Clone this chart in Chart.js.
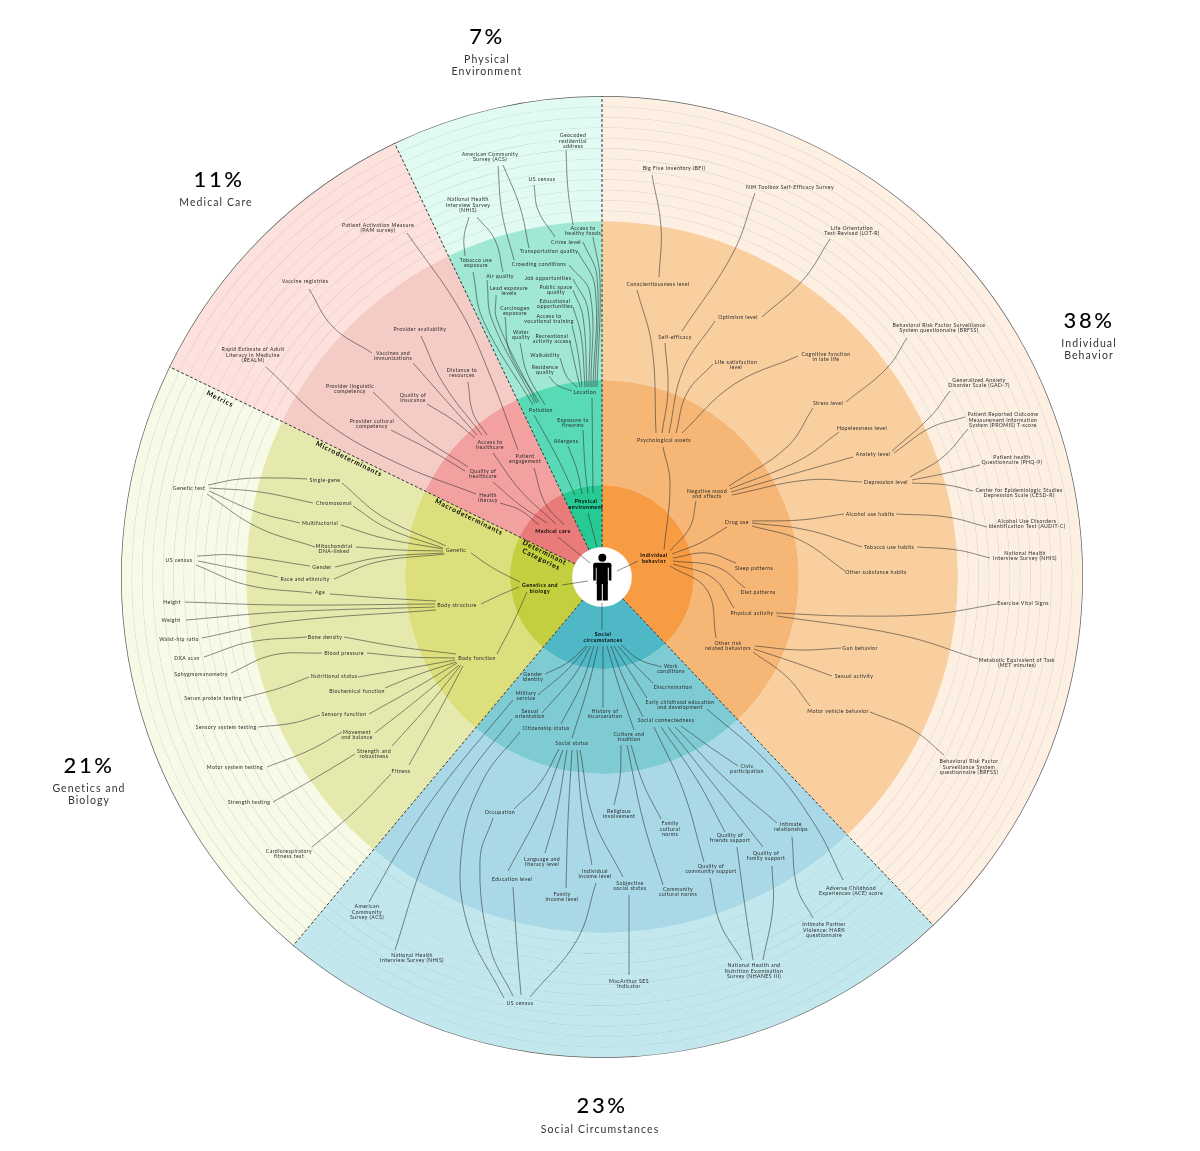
<!DOCTYPE html>
<html>
<head>
<meta charset="utf-8">
<title>Determinants of health</title>
<script src="https://cdn.jsdelivr.net/npm/chart.js@4"></script>
<style>
  html, body { margin: 0; padding: 0; background: #fff; }
  #wrap { position: relative; width: 1200px; height: 1151px; overflow: hidden; }
  #wrap canvas { position: absolute; left: 0; top: 0; }
</style>
</head>
<body>
<div id="wrap">
  <canvas id="rings" width="1200" height="1151"></canvas>
  <canvas id="links" width="1200" height="1151"></canvas>
</div>
<script>
// categories, clockwise from 12 o'clock
const categories = ['Individual behavior', 'Social circumstances', 'Genetics and biology', 'Medical care', 'Physical environment'];
// slice sizes as measured on the picture (printed rounded in the headlines)
const shares = [37.9, 23.2, 21.1, 10.7, 7.1];

// ring colours, same order as categories
const metricColors = ['#fdf0e3', '#c2e8ee', '#f8fae8', '#fde1dd', '#e1faf2'];
const hairColors   = ['#d9cfc2', '#9fcdd6', '#d2d5bd', '#e3bfbb', '#bde0d4'];
const microColors  = ['#f9cfa0', '#a9d9e6', '#e5e9ae', '#f5cbc5', '#a0e7d4'];
const macroColors  = ['#f5b676', '#7ecbd3', '#dcdf7c', '#f2a1a0', '#57dab5'];
const coreColors   = ['#f89c44', '#4fb8c6', '#c4cf3f', '#e97c7b', '#27c994'];

// [text, x, y] - text lines split with |, x/y are in the scatter chart's units
const headlines = [
  ['38%', 1089, 321], ['23%', 602, 1106], ['21%', 89, 766], ['11%', 219, 180], ['7%', 487, 37]
];
const headlineNames = [
  ['Individual|Behavior', 1089, 350], ['Social Circumstances', 600, 1130], ['Genetics and|Biology', 89, 795],
  ['Medical Care', 216, 203], ['Physical|Environment', 487, 66]
];
const levelNames = [
  ['Metrics', 220, 399], ['Microdeterminants', 349, 459], ['Macrodeterminants', 469, 517], ['Determinant|Categories', 543, 556]
];
const categoryLabels = [
  ['Individual|behavior', 654, 558], ['Social|circumstances', 603, 637], ['Genetics and|biology', 540, 588],
  ['Medical care', 553, 531], ['Physical|environment', 586, 504]
];

const physicalLabels = [
  ['Geocoded|residential|address', 573, 141], ['American Community|Survey (ACS)', 490, 157], ['US census', 542, 179],
  ['National Health|Interview Survey|(NHIS)', 468, 205], ['Access to|healthy foods', 583, 231], ['Crime level', 566, 242],
  ['Transportation quality', 549, 251], ['Tobacco use|exposure', 476, 263], ['Crowding conditions', 539, 264],
  ['Air quality', 500, 276], ['Job opportunities', 548, 278], ['Public space|quality', 556, 290],
  ['Lead exposure|levels', 509, 291], ['Educational|opportunities', 555, 304], ['Carcinogen|exposure', 515, 311],
  ['Access to|vocational training', 549, 319], ['Water|quality', 521, 335], ['Recreational|activity access', 552, 339],
  ['Walkability', 545, 355], ['Residence|quality', 545, 370], ['Location', 585, 392], ['Pollution', 541, 410],
  ['Exposure to|firearms', 573, 423], ['Allergens', 566, 441]
];
const medicalLabels = [
  ['Patient Activation Measure|(PAM survey)', 378, 228], ['Vaccine registries', 305, 281], ['Provider availability', 420, 329],
  ['Vaccines and|immunizations', 393, 356], ['Rapid Estimate of Adult|Literacy in Medicine|(REALM)', 253, 355],
  ['Distance to|resources', 462, 373], ['Provider linguistic|competency', 350, 389], ['Quality of|insurance', 413, 398],
  ['Provider cultural|competency', 372, 424], ['Access to|healthcare', 490, 445], ['Quality of|healthcare', 483, 474],
  ['Health|literacy', 488, 498], ['Patient|engagement', 525, 459]
];
const geneticsLabels = [
  ['Genetic test', 189, 488], ['Single-gene', 325, 480], ['Chromosomal', 334, 503], ['Multifactorial', 320, 523],
  ['Mitochondrial|DNA-linked', 334, 549], ['Genetic', 456, 550], ['US census', 179, 560], ['Gender', 322, 567],
  ['Race and ethnicity', 305, 579], ['Age', 320, 592], ['Height', 172, 602], ['Weight', 171, 620],
  ['Body structure', 457, 605], ['Waist-hip ratio', 179, 639], ['Bone density', 325, 637], ['DXA scan', 187, 658],
  ['Blood pressure', 344, 653], ['Sphygmomanometry', 201, 674], ['Body function', 477, 658], ['Nutritional status', 334, 676],
  ['Biochemical function', 357, 691], ['Serum protein testing', 213, 698], ['Sensory function', 344, 714],
  ['Sensory system testing', 226, 727], ['Movement|and balance', 357, 735], ['Strength and|robustness', 374, 754],
  ['Motor system testing', 235, 767], ['Fitness', 401, 771], ['Strength testing', 249, 802],
  ['Cardiorespiratory|fitness test', 289, 854]
];
const individualLabels = [
  ['Big Five Inventory (BFI)', 674, 168], ['NIH Toolbox Self-Efficacy Survey', 790, 187],
  ['Life Orientation|Test-Revised (LOT-R)', 852, 231], ['Conscientiousness level', 658, 284], ['Optimism level', 738, 317],
  ['Self-efficacy', 675, 337], ['Life satisfaction|level', 736, 365], ['Cognitive function|in late life', 826, 357],
  ['Behavioral Risk Factor Surveillance|System questionnaire (BRFSS)', 939, 328], ['Stress level', 828, 403],
  ['Hopelessness level', 862, 428], ['Psychological assets', 664, 440], ['Anxiety level', 873, 454],
  ['Depression level', 886, 482], ['Negative mood|and affects', 707, 494], ['Generalized Anxiety|Disorder Scale (GAD-7)', 979, 383],
  ['Patient Reported Outcome|Measurement Information|System (PROMIS) T-score', 1003, 420],
  ['Patient health|Questionnaire (PHQ-9)', 1012, 460], ['Center for Epidemiologic Studies|Depression Scale (CESD-R)', 1019, 493],
  ['Alcohol use habits', 870, 514], ['Alcohol Use Disorders|Identification Test (AUDIT-C)', 1027, 524], ['Drug use', 737, 522],
  ['Tobacco use habits', 889, 547], ['National Health|Interview Survey (NHIS)', 1025, 556], ['Sleep patterns', 754, 568],
  ['Other substance habits', 876, 572], ['Diet patterns', 758, 592], ['Exercise Vital Signs', 1023, 603],
  ['Physical activity', 752, 613], ['Other risk|related behaviors', 728, 646], ['Gun behavior', 860, 648],
  ['Metabolic Equivalent of Task|(MET minutes)', 1017, 663], ['Sexual activity', 854, 676], ['Motor vehicle behavior', 838, 711],
  ['Behavioral Risk Factor|Surveillance System|questionnaire (BRFSS)', 969, 767]
];
const socialLabels = [
  ['Work|conditions', 671, 669], ['Gender|identity', 533, 677], ['Discrimination', 673, 687],
  ['Early childhood education|and development', 680, 705], ['Military|service', 526, 696], ['Sexual|orientation', 530, 714],
  ['History of|incarceration', 605, 714], ['Social connectedness', 666, 720], ['Citizenship status', 546, 728],
  ['Culture and|tradition', 629, 737], ['Social status', 572, 743], ['Civic|participation', 747, 769], ['Occupation', 500, 812],
  ['Religious|involvement', 619, 814], ['Family|cultural|norms', 670, 829], ['Intimate|relationships', 791, 827],
  ['Quality of|friends support', 730, 838], ['Quality of|family support', 766, 856], ['Language and|literacy level', 542, 862],
  ['Quality of|community support', 711, 869], ['Individual|income level', 595, 874], ['Education level', 512, 879],
  ['Subjective|social status', 630, 886], ['Community|cultural norms', 678, 892], ['Family|income level', 562, 897],
  ['Adverse Childhood|Experiences (ACE) score', 851, 891], ['American|Community|Survey (ACS)', 367, 912],
  ['Intimate Partner|Violence: HARK|questionnaire', 824, 930], ['National Health|Interview Survey (NHIS)', 412, 958],
  ['National Health and|Nutrition Examination|Survey (NHANES III)', 754, 971], ['MacArthur SES|indicator', 629, 984],
  ['US census', 520, 1003]
];

const physicalLinks = [
  [[566,150],[568,190],[573,225]], [[503,165],[520,207],[529,248]], [[498,166],[502,213],[514,260]],
  [[534,185],[538,210],[555,237]], [[469,217],[464,237],[465,256]], [[477,217],[495,240],[503,272]],
  [[593,237],[600,280],[597,387]], [[583,242],[597,277],[595,387]], [[578,252],[595,287],[593,387]],
  [[569,265],[590,293],[591,387]], [[573,279],[588,310],[589,387]], [[573,290],[583,317],[587,387]],
  [[573,307],[581,335],[585,387]], [[572,325],[578,353],[582,387]], [[570,342],[575,365],[580,387]],
  [[560,358],[567,377],[577,387]], [[549,376],[557,385],[572,391]], [[592,398],[593,493]],
  [[473,272],[483,320],[533,405]], [[487,280],[492,320],[535,403]], [[496,295],[497,320],[537,403]],
  [[505,317],[510,353],[539,402]], [[520,343],[527,373],[545,405]], [[534,415],[557,457],[575,495]],
  [[583,430],[585,467],[588,494]], [[568,446],[577,470],[582,494]], [[588,513],[597,547]]
];
const medicalLinks = [
  [[407,233],[460,310],[490,375],[518,450]], [[309,289],[333,327],[372,353]], [[421,336],[443,383],[482,435]],
  [[413,363],[443,397],[477,435]], [[468,382],[473,413],[487,435]], [[427,404],[453,420],[475,438]],
  [[373,392],[417,433],[468,467]], [[391,430],[430,450],[465,471]], [[266,367],[327,423],[397,463],[476,494]],
  [[493,453],[520,490],[556,524]], [[493,482],[520,505],[547,523]], [[500,503],[520,510],[539,525]],
  [[534,468],[545,503],[564,525]], [[558,537],[590,563]]
];
const geneticsLinks = [
  [[208,485],[240,479],[283,478],[307,479]], [[209,488],[260,492],[313,503]], [[209,491],[257,512],[300,523]],
  [[207,494],[257,527],[315,547]], [[342,483],[383,517],[446,546]], [[353,506],[387,528],[443,548]],
  [[341,525],[383,538],[443,549]], [[356,547],[400,550],[443,551]], [[335,567],[383,557],[443,553]],
  [[334,579],[377,562],[445,554]], [[197,556],[233,555],[310,566]], [[198,561],[243,570],[278,577]],
  [[196,565],[247,585],[312,593]], [[330,594],[383,598],[436,601]], [[185,602],[283,605],[435,604]],
  [[186,620],[283,612],[435,607]], [[202,638],[283,622],[436,610]], [[344,637],[400,647],[456,654]],
  [[367,653],[410,657],[455,658]], [[358,677],[410,668],[455,660]], [[385,688],[417,675],[456,662]],
  [[369,714],[417,687],[457,663]], [[375,733],[417,700],[459,665]], [[392,746],[427,707],[461,665]],
  [[409,765],[437,715],[463,666]], [[204,657],[250,642],[307,637]], [[231,673],[273,655],[322,653]],
  [[243,698],[280,688],[309,677]], [[258,727],[293,723],[320,715]], [[267,767],[310,750],[342,732]],
  [[273,802],[317,777],[355,754]], [[312,847],[353,813],[391,774]], [[471,553],[493,568],[520,582]],
  [[481,604],[500,595],[519,587]], [[497,654],[513,623],[527,592]], [[562,585],[588,581]]
];
const individualLinks = [
  [[652,175],[661,227],[659,277]], [[755,193],[733,253],[682,331]], [[830,239],[803,280],[762,317]],
  [[637,290],[652,347],[656,433]], [[665,343],[668,390],[662,433]], [[715,321],[683,370],[669,433]],
  [[713,364],[687,393],[676,433]], [[798,356],[733,385],[682,433]], [[663,447],[670,483],[664,550]],
  [[907,338],[887,368],[846,402]], [[813,408],[787,447],[729,486]], [[839,432],[800,460],[730,489]],
  [[853,457],[800,472],[731,492]], [[862,482],[807,480],[732,495]], [[950,391],[930,417],[892,451]],
  [[965,417],[930,428],[894,453]], [[968,429],[943,457],[910,477]], [[980,465],[947,473],[912,480]],
  [[973,491],[947,485],[912,483]], [[987,527],[947,517],[896,514]], [[990,558],[957,550],[917,547]],
  [[696,501],[690,527],[670,551]], [[844,514],[800,520],[752,521]], [[862,547],[807,530],[752,523]],
  [[845,571],[800,540],[752,526]], [[727,527],[700,543],[672,554]], [[736,563],[707,553],[673,558]],
  [[745,588],[717,567],[673,561]], [[734,608],[713,578],[673,564]], [[716,638],[707,590],[670,566]],
  [[841,648],[800,650],[755,646]], [[832,676],[793,662],[754,649]], [[810,706],[787,677],[753,652]],
  [[870,712],[913,730],[944,755]], [[997,604],[933,614],[850,616],[776,613]], [[978,659],[900,635],[777,616]],
  [[638,561],[617,571]]
];
const socialLinks = [
  [[602,603],[602,630]], [[662,667],[640,660],[621,645]], [[653,683],[633,663],[618,646]], [[647,698],[627,667],[614,646]],
  [[643,717],[623,677],[611,646]], [[634,730],[618,683],[607,646]], [[603,708],[603,646]], [[572,738],[588,687],[598,646]],
  [[561,724],[582,683],[594,646]], [[542,713],[573,677],[591,646]], [[538,695],[567,670],[588,646]],
  [[545,674],[567,663],[586,646]], [[707,709],[770,765],[815,825],[843,880]], [[513,700],[447,780],[405,840],[369,902]],
  [[512,719],[465,780],[427,853],[395,950]], [[520,732],[483,780],[462,847],[467,923],[504,998]],
  [[493,818],[480,860],[490,947],[513,996]], [[513,887],[517,947],[521,995]], [[596,883],[577,940],[530,997]],
  [[629,895],[629,975]], [[559,749],[540,783],[514,809]], [[563,750],[540,810],[508,871]], [[567,750],[557,810],[545,853]],
  [[572,750],[568,820],[566,888]], [[577,750],[582,810],[592,865]], [[580,750],[593,817],[623,877]],
  [[621,745],[620,777],[614,805]], [[627,745],[643,820],[663,885]], [[631,745],[643,783],[661,819]],
  [[681,726],[710,747],[738,766]], [[675,727],[727,780],[777,823]], [[668,727],[710,780],[763,847]],
  [[661,727],[697,780],[725,832]], [[654,727],[683,790],[704,862]], [[710,878],[720,923],[742,960]],
  [[737,847],[745,907],[753,960]], [[772,866],[773,907],[763,960]], [[792,837],[797,887],[813,918]]
];

const allLabels = [physicalLabels, medicalLabels, geneticsLabels, individualLabels, socialLabels].flat();
const allLinks = [physicalLinks, medicalLinks, geneticsLinks, individualLinks, socialLinks].flat();

const fontName = 'Lato, "Open Sans", sans-serif';
const center = { x: 602, y: 577 };
const radii = { hole: 30, core: 92, macro: 197, micro: 356, firstLine: 366, outer: 481 };
const metricLines = 11;
const outlineWidth = 0.7;
const hairWidth = 0.8;

// outer metric ring is a stack of thin bands with hairlines between them
function ring(colors, weight, edge) {
    return { data: shares, backgroundColor: colors, borderColor: colors, borderWidth: edge, weight: weight };
}
const bandGap = (radii.outer - outlineWidth - radii.firstLine) / metricLines;
const ringSets = [ring(Array(5).fill('#5b5b5b'), outlineWidth, 0)];
for (let i = 0; i < metricLines; i++) {
    ringSets.push(ring(metricColors, bandGap - hairWidth, 0.3));
    ringSets.push(ring(hairColors, hairWidth, 0));
}
ringSets.push(ring(metricColors, radii.firstLine - radii.micro, 0.3));
ringSets.push(ring(microColors, radii.micro - radii.macro, 0.3));
ringSets.push(ring(macroColors, radii.macro - radii.core, 0.3));
ringSets.push(ring(coreColors, radii.core - radii.hole, 0.3));

new Chart(document.getElementById('rings'), {
    type: 'doughnut',
    data: { labels: categories, datasets: ringSets },
    options: {
        responsive: false,
        animation: false,
        cutout: radii.hole,
        layout: { padding: { left: 121, right: 117, top: 96, bottom: 93 } },
        plugins: { legend: { display: false }, tooltip: { enabled: false } },
        events: []
    }
});

// dashed boundaries follow the shares, starting from 12 o'clock
const boundaries = [];
let running = 0;
shares.forEach((share) => {
    const angle = running / 100 * Math.PI * 2;
    boundaries.push([
        { x: center.x + Math.sin(angle) * radii.hole, y: center.y - Math.cos(angle) * radii.hole },
        { x: center.x + Math.sin(angle) * radii.outer, y: center.y - Math.cos(angle) * radii.outer }
    ]);
    running += share;
});

const linkSets = [];
boundaries.forEach((points) => {
    linkSets.push({ data: points, borderColor: '#333', borderWidth: 1, borderDash: [3, 2], pointRadius: 0, tension: 0 });
});
allLinks.forEach((points) => {
    linkSets.push({
        data: points.map((p) => ({ x: p[0], y: p[1] })),
        borderColor: 'rgba(45,45,45,0.85)',
        borderWidth: 0.65,
        pointRadius: 0,
        tension: 0.4
    });
});

function drawText(ctx, scales, row, font, spacing, lineHeight, color) {
    const lines = row[0].split('|');
    const x = scales.x.getPixelForValue(row[1]);
    const y = scales.y.getPixelForValue(row[2]);
    ctx.font = font;
    ctx.letterSpacing = spacing + 'px';
    ctx.fillStyle = color;
    ctx.textAlign = 'center';
    ctx.textBaseline = 'middle';
    lines.forEach((line, i) => {
        ctx.fillText(line, x, y + (i - (lines.length - 1) / 2) * lineHeight);
    });
}

const labelPlugin = {
    id: 'labelPlugin',
    afterDatasetsDraw(chart) {
        const ctx = chart.ctx;
        const scales = chart.scales;
        ctx.save();
        allLabels.forEach((row) => drawText(ctx, scales, row, '5.2px ' + fontName, 0.4, 5.5, '#2b2b2b'));
        categoryLabels.forEach((row) => drawText(ctx, scales, row, 'bold 5.2px ' + fontName, 0.5, 5.8, '#000'));
        headlines.forEach((row) => drawText(ctx, scales, row, '500 22px ' + fontName, 2.5, 24, '#000'));
        headlineNames.forEach((row) => drawText(ctx, scales, row, '10.5px ' + fontName, 1.1, 12, '#333'));
        levelNames.forEach((row) => {
            const x = scales.x.getPixelForValue(row[1]);
            const y = scales.y.getPixelForValue(row[2]);
            ctx.save();
            ctx.translate(x, y);
            ctx.rotate(26 * Math.PI / 180);
            ctx.translate(-x, -y);
            drawText(ctx, scales, row, 'bold 6.8px ' + fontName, 0.9, 7.5, '#000');
            ctx.restore();
        });
        ctx.restore();
    }
};

// person figure in the white middle
const figurePlugin = {
    id: 'figurePlugin',
    afterDatasetsDraw(chart) {
        const ctx = chart.ctx;
        const cx = chart.scales.x.getPixelForValue(center.x);
        const cy = chart.scales.y.getPixelForValue(center.y);
        ctx.save();
        ctx.fillStyle = '#000';
        ctx.beginPath();
        ctx.arc(cx + 0.3, cy - 19.3, 4, 0, Math.PI * 2);
        ctx.fill();
        ctx.beginPath();
        ctx.roundRect(cx - 8.8, cy - 14.3, 18.2, 5, 2);
        ctx.fill();
        ctx.fillRect(cx - 8.8, cy - 12, 2.6, 15.5);
        ctx.fillRect(cx + 6.8, cy - 12, 2.6, 15.5);
        ctx.fillRect(cx - 5.4, cy - 13, 11.2, 20);
        ctx.fillRect(cx - 5.2, cy + 5, 5, 18.5);
        ctx.fillRect(cx + 0.8, cy + 5, 5, 18.5);
        ctx.restore();
    }
};

new Chart(document.getElementById('links'), {
    type: 'line',
    data: { datasets: linkSets },
    options: {
        responsive: false,
        animation: false,
        parsing: false,
        layout: { padding: 0 },
        plugins: { legend: { display: false }, tooltip: { enabled: false } },
        events: [],
        scales: {
            x: { type: 'linear', min: 0, max: 1200, display: false },
            y: { type: 'linear', min: 0, max: 1151, reverse: true, display: false }
        }
    },
    plugins: [figurePlugin, labelPlugin]
});
</script>
</body>
</html>
